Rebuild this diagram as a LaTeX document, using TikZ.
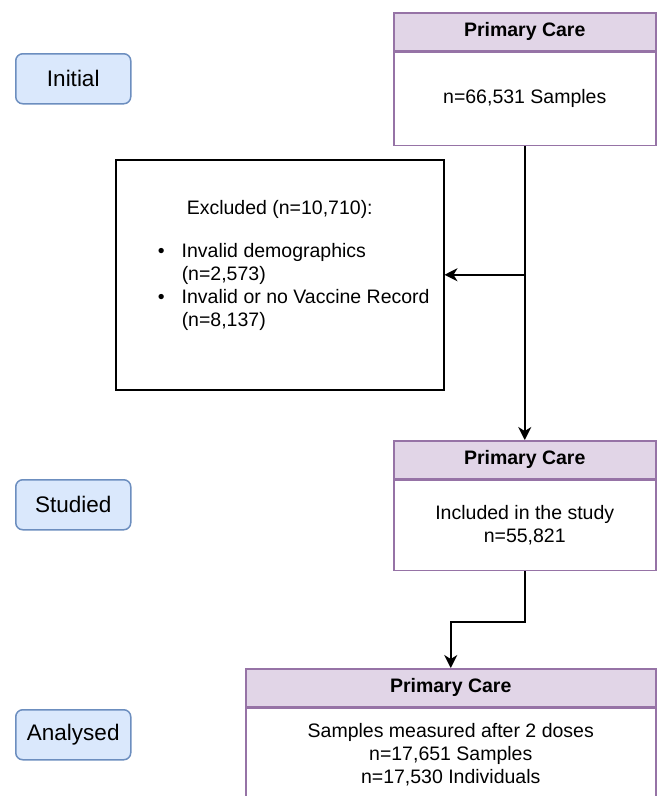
\documentclass[tikz,border=0pt]{standalone}
\usepackage{fontspec}
\setmainfont{Liberation Sans}
\usetikzlibrary{arrows.meta}
\definecolor{headfill}{HTML}{E1D5E7}
\definecolor{headline}{HTML}{9673A6}
\definecolor{stagefill}{HTML}{DAE8FC}
\definecolor{stageline}{HTML}{6C8EBF}
\begin{document}
\begin{tikzpicture}[x=1pt,y=-1pt,line width=1.5pt]
	\tikzstyle{every node}=[font=\fontsize{19.5}{23}\selectfont, inner sep=0pt]
	\tikzstyle{stage}=[draw=stageline, fill=stagefill, rounded corners=7pt, minimum width=115pt, minimum height=50pt, font=\fontsize{22.5}{26}\selectfont]
	\tikzstyle{head}=[draw=headline, fill=headfill, font=\fontsize{19.5}{23}\selectfont\bfseries, minimum height=38pt]
	\tikzstyle{body}=[draw=headline, align=center]
	\tikzstyle{arr}=[-{Stealth[length=13pt,width=13pt,inset=4pt]}]
	
	\useasboundingbox (0,0) rectangle (659,796);
	\clip (0,0) rectangle (659,796);
	
	% stages on the left
	\node[stage, anchor=north west] at (15,53) (initial) {Initial};
	\node[stage, anchor=north west] at (15,479) (studied) {Studied};
	\node[stage, anchor=north west] at (15,709) (analysed) {Analysed};
	
	% primary care boxes
	\node[head, anchor=north west, minimum width=262pt] at (393,12) (pc1) {Primary Care};
	\node[body, anchor=north, minimum width=262pt, minimum height=93pt] at (pc1.south) (s1) {n=66,531 Samples};
	
	\node[head, anchor=north west, minimum width=262pt] at (393,440) (pc2) {Primary Care};
	\node[body, anchor=north, minimum width=262pt, minimum height=90pt] at (pc2.south) (s2) {Included in the study\\n=55,821};
	
	\node[head, anchor=north west, minimum width=410pt] at (245,668) (pc3) {Primary Care};
	\node[body, anchor=north, minimum width=410pt, minimum height=92pt] at (pc3.south) (s3) {Samples measured after 2 doses\\n=17,651 Samples\\n=17,530 Individuals};
	
	% excluded
	\node[draw, anchor=north west, minimum width=328pt, minimum height=230pt] at (115,159) (excl) {\parbox{310pt}{%
		\centering Excluded (n=10,710):\par
		\vspace{20pt}
		\raggedright\leftskip=57pt
		\leavevmode\llap{\textbullet\hspace{17pt}}Invalid demographics\\
		(n=2,573)\\
		\leavevmode\llap{\textbullet\hspace{17pt}}Invalid or no Vaccine Record\\
		(n=8,137)\par
		\vspace*{18pt}}};
	
	\draw[arr] (s1.south) -- (pc2.north);
	\draw[arr] (s1.south |- excl.east) -- (excl.east);
	\draw[arr] (s2.south) -- ++(0,51) -| (pc3.north);
	
\end{tikzpicture}
\end{document}
